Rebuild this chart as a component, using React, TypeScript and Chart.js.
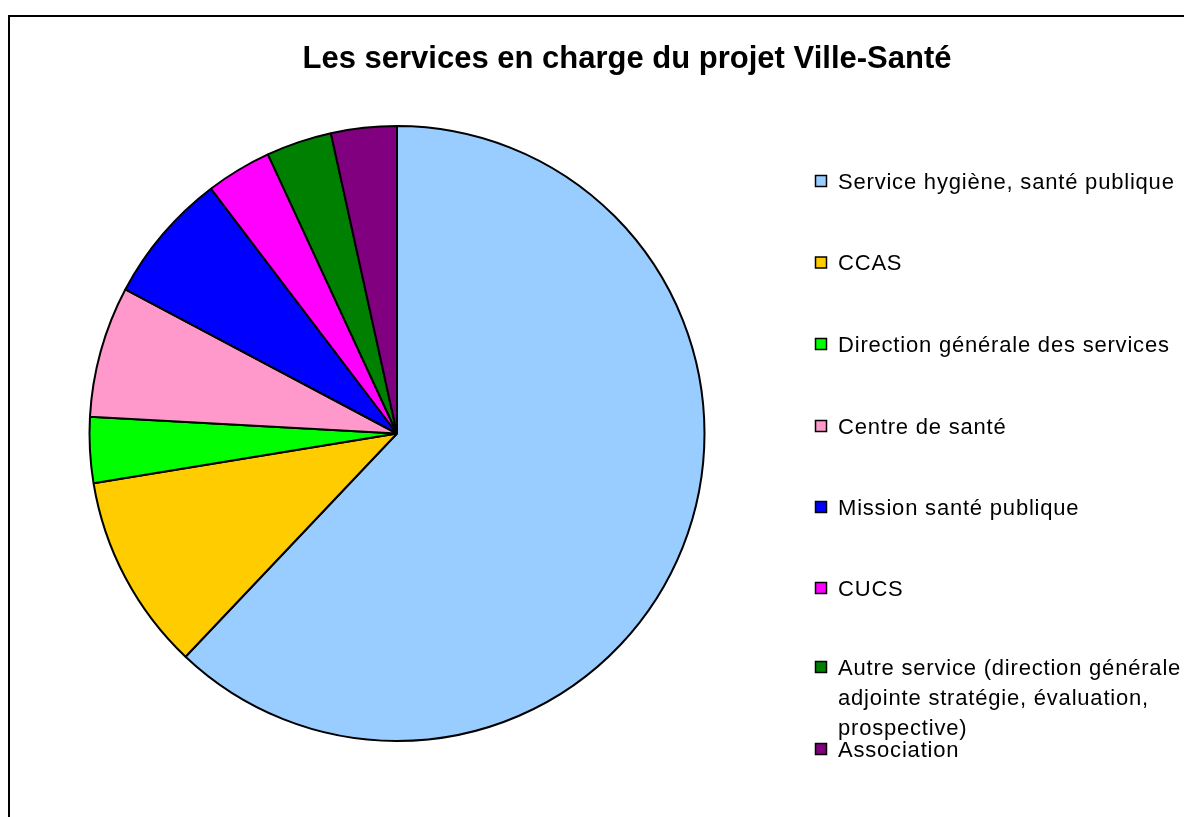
import React, { useEffect, useRef } from "react";
import { Chart, registerables } from "chart.js";

Chart.register(...registerables);

const titleText = "Les services en charge du projet Ville-Santé";
const categories = [
  "Service hygiène, santé publique",
  "CCAS",
  "Direction générale des services",
  "Centre de santé",
  "Mission santé publique",
  "CUCS",
  "Autre service (direction générale adjointe stratégie, évaluation, prospective)",
  "Association",
];
const counts = [18, 3, 1, 2, 2, 1, 1, 1];
const sliceColors = [
  "#99CCFF",
  "#FFCC00",
  "#00FF00",
  "#FF99CC",
  "#0000FF",
  "#FF00FF",
  "#008000",
  "#800080",
];

const FONT = '"Liberation Sans", Arial, sans-serif';

function wrap(ctx: CanvasRenderingContext2D, text: string, maxW: number): string[] {
  const words = text.split(" ");
  const lines: string[] = [];
  let cur = "";
  for (const w of words) {
    const test = cur ? cur + " " + w : w;
    if (ctx.measureText(test).width > maxW && cur) {
      lines.push(cur);
      cur = w;
    } else {
      cur = test;
    }
  }
  if (cur) lines.push(cur);
  return lines;
}

const decorPlugin = {
  id: "decor",
  afterDraw(chart: any) {
    const ctx: CanvasRenderingContext2D = chart.ctx;
    ctx.save();
    // frame
    ctx.strokeStyle = "#000";
    ctx.lineWidth = 2;
    ctx.beginPath();
    ctx.moveTo(9, 830);
    ctx.lineTo(9, 16);
    ctx.lineTo(1200, 16);
    ctx.stroke();

    // title
    ctx.fillStyle = "#000";
    ctx.font = `bold 31px ${FONT}`;
    ctx.textAlign = "center";
    ctx.textBaseline = "alphabetic";
    ctx.fillText(titleText, 627, 68);

    // legend
    const itemCenters = [181, 262.5, 344, 426, 507, 588, 667, 749];
    const lineH = 30;
    ctx.font = `22px ${FONT}`;
    (ctx as any).letterSpacing = "0.8px";
    ctx.textAlign = "left";
    const labels: string[] = chart.data.labels;
    const colors: string[] = chart.data.datasets[0].backgroundColor;
    labels.forEach((lab, i) => {
      const yc = itemCenters[i];
      ctx.fillStyle = colors[i];
      ctx.fillRect(815.5, yc - 5.5, 11, 11);
      ctx.strokeStyle = "#000";
      ctx.lineWidth = 1.5;
      ctx.strokeRect(815.5, yc - 5.5, 11, 11);
      ctx.fillStyle = "#000";
      const lines = wrap(ctx, lab, 380);
      lines.forEach((ln, k) => {
        ctx.fillText(ln, 838, yc + 7.9 + k * lineH);
      });
    });
    ctx.restore();
  },
};

export default function App() {
  const ref = useRef<HTMLCanvasElement | null>(null);
  useEffect(() => {
    if (!ref.current) return;
    const chart = new Chart(ref.current, {
      type: "pie",
      data: {
        labels: categories,
        datasets: [
          {
            data: counts,
            backgroundColor: sliceColors,
            borderColor: "#000",
            borderWidth: 2,
          },
        ],
      },
      options: {
        responsive: false,
        animation: false,
        layout: { padding: { left: 88, right: 478, top: 125, bottom: 75 } },
        plugins: {
          legend: { display: false },
          title: { display: false },
          tooltip: { enabled: false },
        },
        events: [],
      },
      plugins: [decorPlugin],
    });
    return () => chart.destroy();
  }, []);
  return (
    <div style={{ position: "fixed", left: 0, top: 0, width: 1184, height: 817, background: "#fff" }}>
      <canvas ref={ref} width={1184} height={817} style={{ display: "block" }} />
    </div>
  );
}
